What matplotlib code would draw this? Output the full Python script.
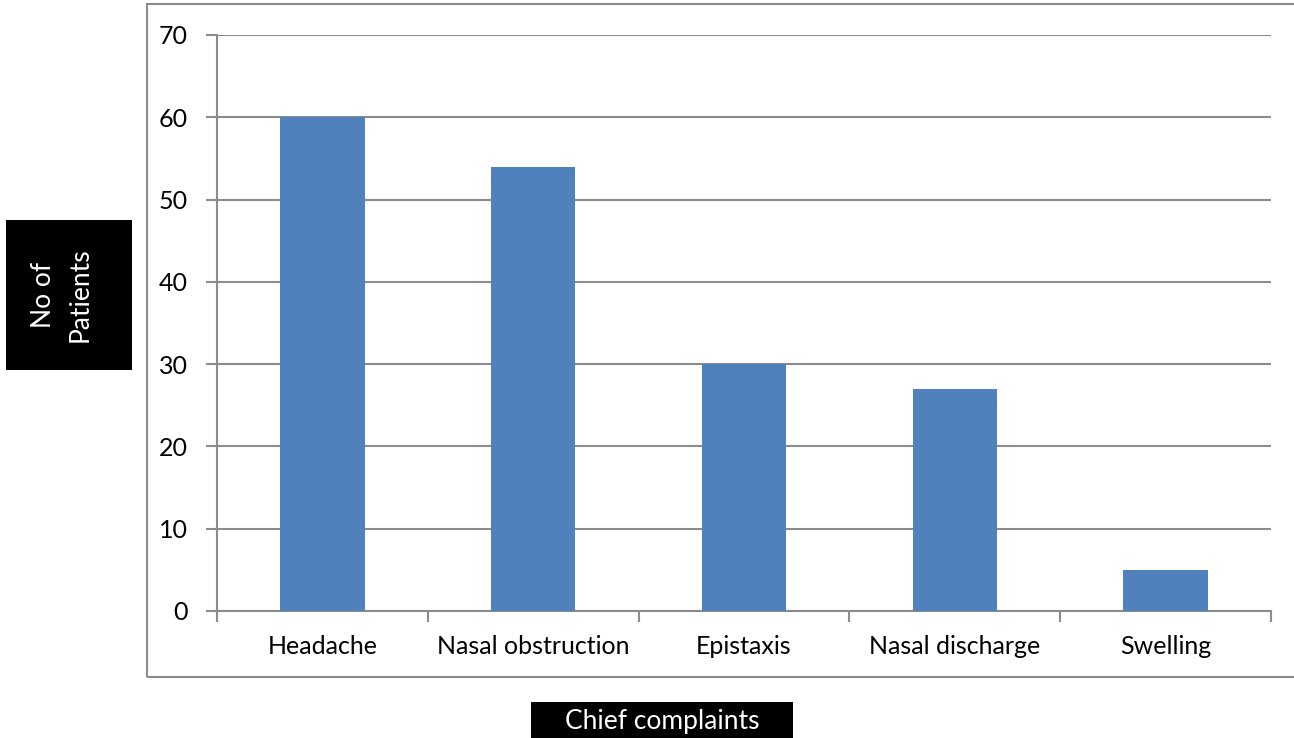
import matplotlib.pyplot as plt
from matplotlib.patches import Rectangle

complaints = ["Headache", "Nasal obstruction", "Epistaxis", "Nasal discharge", "Swelling"]
patients = [60, 54, 30, 27, 5]
yticks = [0, 10, 20, 30, 40, 50, 60, 70]

plt.rcParams['font.family'] = ['Lato', 'DejaVu Sans']
grey = "#8c8c8c"

fig = plt.figure(figsize=(12.94, 7.38), dpi=100)
ax = fig.add_axes([217/1294, 1 - 611/738, (1271 - 217)/1294, (611 - 35)/738])

x = list(range(len(complaints)))
ax.bar(x, patients, width=0.4, color="#4f81bd", zorder=3)

ax.set_xlim(-0.5, len(complaints) - 0.5)
ax.set_ylim(0, 70)
ax.set_yticks(yticks)
ax.set_yticklabels([str(t) for t in yticks], fontsize=18)
ax.set_xticks(x)
ax.set_xticklabels(complaints, fontsize=18)
ax.tick_params(axis="x", length=0, pad=17)
ax.tick_params(axis="y", length=8, width=1.5, color=grey, pad=13)

# category separators below the x axis
ax.set_xticks([i - 0.5 for i in range(len(complaints) + 1)], minor=True)
ax.tick_params(axis="x", which="minor", length=8, width=1.5, color=grey, direction="out")

ax.grid(axis="y", color=grey, linewidth=1.5, zorder=0)
for side in ["top", "right"]:
    ax.spines[side].set_visible(False)
for side in ["left", "bottom"]:
    ax.spines[side].set_color(grey)
    ax.spines[side].set_linewidth(1.5)

# outer chart border
fig.add_artist(Rectangle((147/1294, 1 - 677/738), 1.0, (677 - 4)/738,
                         transform=fig.transFigure, fill=False,
                         edgecolor=grey, linewidth=1.5))

# axis titles in black boxes
fig.add_artist(Rectangle((6/1294, 1 - 370/738), 126/1294, 150/738,
                         transform=fig.transFigure, facecolor="black", edgecolor="none"))
fig.text(62/1294, 1 - 295/738, "No of\nPatients", rotation=90, color="white",
         fontsize=19, ha="center", va="center", linespacing=1.6)

fig.add_artist(Rectangle((531/1294, 0), 262/1294, 36/738,
                         transform=fig.transFigure, facecolor="black", edgecolor="none"))
fig.text(662/1294, 1 - 721/738, "Chief complaints", color="white",
         fontsize=19, ha="center", va="center")

fig.savefig("out.png", dpi=100)
